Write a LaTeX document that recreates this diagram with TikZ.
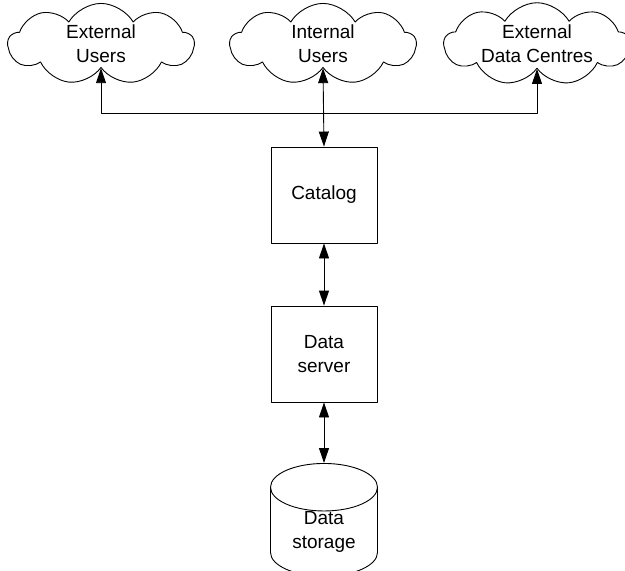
\documentclass[tikz,border=0pt]{standalone}
\usepackage{fontspec}
\setmainfont{Liberation Sans}
\usetikzlibrary{arrows.meta,shapes.symbols,shapes.geometric}
\tikzset{
	usercloud/.style={cloud,draw,cloud puffs=9,cloud puff arc=120,aspect=2.9,minimum width=186pt,minimum height=62pt,inner sep=0pt,align=center},
	unitbox/.style={draw,rectangle,minimum width=106pt,minimum height=96pt,inner sep=0pt,align=center},
	storebox/.style={draw,cylinder,shape border rotate=90,shape aspect=0.75,minimum width=107pt,minimum height=106pt,inner sep=0pt,align=center}
}

\begin{document}
\begin{tikzpicture}[line cap=round,line join=round,>={Triangle[length=15pt,width=10pt]},x=1pt,y=-1pt,line width=0.9pt,font=\fontsize{19}{24}\selectfont]
	\useasboundingbox (0,0) rectangle (625,571);
	% the three clouds
	\node[usercloud] (extusers) at (101,44) {External\\Users};
	\node[usercloud] (intusers) at (323,44) {Internal\\Users};
	\node[usercloud] (extcentres) at (537,44) {External\\Data Centres};
	% the stack
	\node[unitbox] (catalog) at (324,195) {Catalog};
	\node[unitbox] (dataserver) at (324,354) {Data\\server};
	\node[storebox,anchor=north] (datastorage) at (324,463) {Data\\storage};
	\coordinate (bus) at (catalog.north |- 0,113);
	% connectors
	\draw [<->] (intusers.south) -- (catalog.north);
	\draw [->] (bus) -| (extusers.south);
	\draw [->] (bus) -| (extcentres.south);
	\draw [<->] (catalog.south) -- (dataserver.north);
	\draw [<->] (dataserver.south) -- (datastorage.north);
\end{tikzpicture}
\end{document}
